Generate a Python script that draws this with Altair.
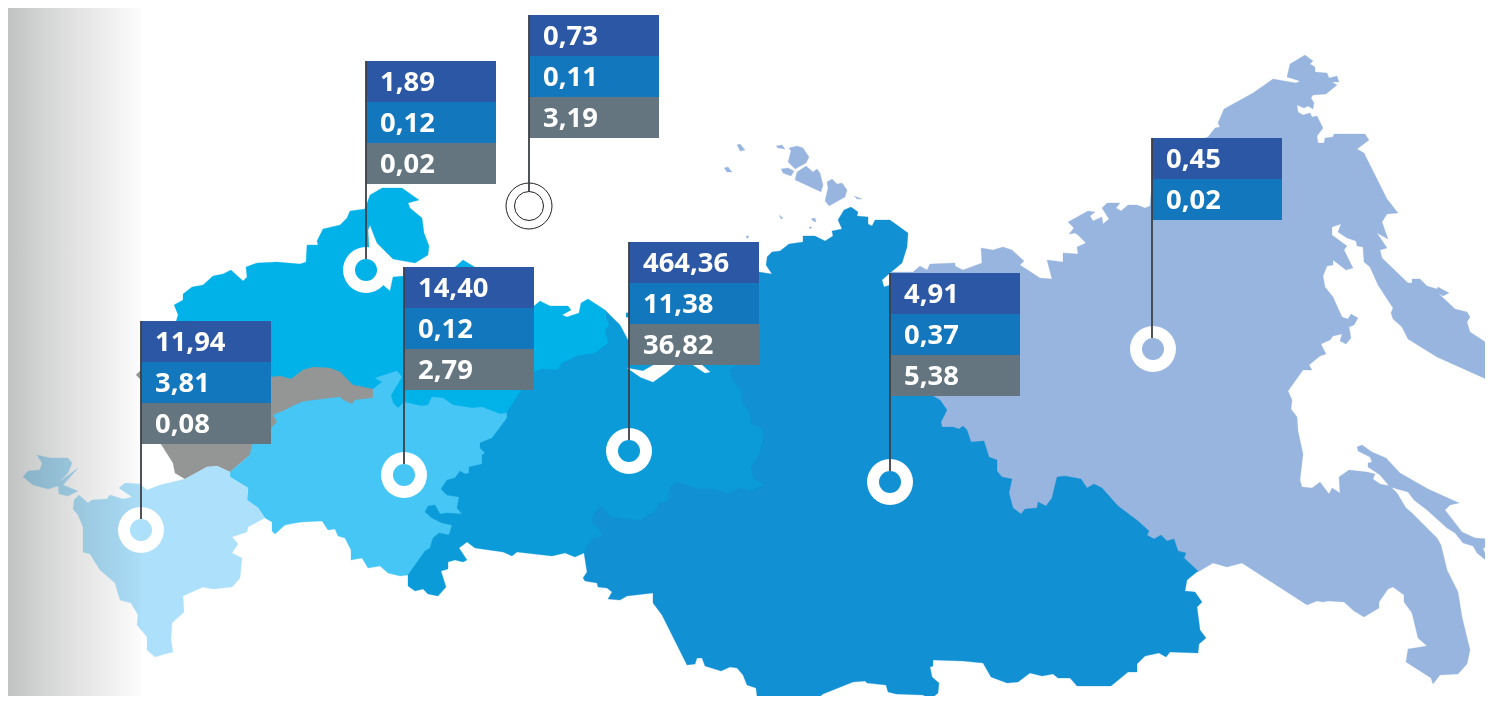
import altair as alt
import pandas as pd

# ---- map outlines (x, y in picture pixels) ----
FAR_EAST = [(891,272),(908,272),(913,272),(920,266),(927,270),(930,264),(955,263),(955,266),(963,270),(982,263),(981,248),(993,250),(1003,247),(1012,250),(1024,261),(1020,265),(1040,278),(1052,279),(1047,260),(1063,262),(1063,253),(1078,254),(1077,247),(1086,243),(1078,235),(1075,233),(1069,234),(1074,228),(1068,222),(1088,211),(1095,212),(1090,216),(1093,221),(1102,217),(1103,224),(1109,219),(1102,208),(1107,203),(1120,203),(1116,208),(1121,211),(1128,205),(1137,205),(1145,208),(1150,206),(1151,194),(1170,150),(1208,137),(1215,128),(1220,127),(1218,123),(1224,109),(1253,93),(1273,79),(1296,83),(1300,81),(1287,77),(1290,64),(1305,55),(1313,61),(1310,64),(1315,67),(1315,72),(1327,73),(1329,78),(1337,76),(1339,82),(1332,82),(1337,85),(1326,94),(1313,95),(1311,98),(1314,103),(1313,109),(1308,106),(1304,108),(1297,105),(1298,112),(1303,115),(1310,113),(1312,117),(1317,116),(1323,128),(1317,136),(1318,143),(1324,143),(1325,138),(1333,137),(1334,134),(1365,134),(1369,140),(1357,149),(1364,153),(1387,199),(1398,213),(1387,214),(1382,222),(1388,239),(1377,233),(1387,248),(1380,250),(1382,258),(1408,283),(1412,283),(1412,279),(1420,279),(1427,286),(1437,289),(1438,287),(1449,293),(1443,296),(1438,293),(1455,309),(1467,312),(1470,317),(1467,322),(1470,332),(1487,343),(1485,347),(1488,355),(1493,358),(1493,382),(1437,357),(1408,339),(1402,327),(1393,319),(1391,313),(1393,308),(1378,285),(1370,267),(1364,262),(1363,247),(1357,246),(1356,241),(1347,238),(1338,232),(1341,224),(1332,227),(1332,235),(1347,246),(1344,250),(1353,268),(1346,270),(1333,260),(1333,265),(1327,266),(1323,276),(1325,287),(1333,297),(1342,317),(1348,319),(1351,314),(1358,318),(1354,325),(1349,327),(1351,338),(1346,344),(1340,341),(1342,334),(1333,336),(1330,340),(1321,344),(1326,354),(1320,356),(1309,365),(1312,370),(1303,370),(1288,391),(1292,400),(1291,409),(1297,417),(1298,431),(1303,454),(1300,480),(1302,487),(1312,488),(1320,482),(1329,494),(1332,488),(1340,493),(1339,477),(1349,470),(1367,472),(1375,474),(1373,479),(1380,484),(1390,486),(1397,493),(1406,508),(1412,513),(1437,538),(1441,545),(1447,570),(1458,592),(1462,617),(1470,650),(1467,664),(1458,674),(1440,675),(1433,684),(1431,678),(1406,662),(1408,649),(1427,646),(1418,638),(1412,613),(1404,602),(1404,595),(1393,587),(1388,589),(1379,602),(1379,608),(1364,617),(1354,611),(1344,602),(1328,601),(1323,602),(1317,601),(1307,605),(1242,563),(1227,567),(1213,563),(1198,572),(1150,560),(1100,540),(1000,530),(940,440),(900,300)]
SAKHALIN = [(1357,447),(1362,445),(1372,452),(1386,458),(1400,473),(1428,489),(1459,503),(1450,505),(1445,510),(1462,532),(1475,538),(1490,539),(1493,543),(1492,546),(1483,548),(1488,562),(1477,553),(1473,546),(1463,543),(1455,533),(1447,528),(1427,510),(1414,500),(1408,492),(1390,487),(1380,475),(1368,467),(1368,463),(1372,462),(1370,457),(1358,451)]
ISLANDS = [
    [(788,162),(791,151),(789,148),(797,146),(803,148),(809,157),(806,163),(795,169)],
    [(795,180),(797,172),(806,166),(813,172),(817,169),(820,173),(823,185),(821,192)],
    [(781,169),(788,168),(794,171),(791,176),(783,173)],
    [(825,201),(828,188),(827,182),(832,179),(837,184),(842,183),(847,190),(845,197),(829,206)],
    [(737,145),(740,144),(745,150),(740,151)],
    [(776,146),(782,145),(785,149),(778,148)],
    [(724,168),(728,167),(732,172),(727,172)],
    [(854,196),(862,199),(857,199)],
    [(779,215),(783,218),(781,219)],
    [(811,219),(815,218),(816,222),(813,221)],
    [(809,227),(812,227),(810,229)],
    [(746,236),(749,236),(747,239)],
]
SIBERIA = [(767,257),(772,252),(780,251),(789,244),(803,242),(803,236),(815,236),(825,241),(833,236),(832,231),(842,229),(838,220),(844,210),(851,207),(858,212),(857,216),(868,217),(868,224),(872,226),(875,220),(890,220),(908,233),(907,247),(902,263),(890,273),(882,280),(884,287),(890,285),(905,320),(925,385),(933,396),(940,400),(947,410),(941,422),(942,427),(953,427),(959,429),(963,426),(967,430),(971,442),(984,441),(989,457),(997,460),(997,471),(1002,477),(1012,479),(1009,493),(1013,508),(1021,514),(1025,509),(1037,508),(1038,502),(1046,506),(1052,498),(1057,477),(1065,476),(1081,479),(1087,488),(1094,484),(1102,488),(1118,506),(1138,521),(1149,531),(1147,535),(1154,539),(1161,535),(1167,541),(1174,539),(1178,551),(1186,553),(1184,558),(1198,571),(1187,580),(1185,591),(1195,592),(1202,602),(1197,607),(1200,630),(1206,638),(1199,644),(1198,653),(1170,652),(1166,657),(1159,653),(1145,656),(1137,664),(1137,672),(1128,672),(1111,686),(1077,686),(1070,678),(1058,678),(1053,674),(1042,676),(1030,673),(1018,682),(1007,683),(991,677),(983,663),(963,661),(933,660),(933,666),(930,667),(932,677),(939,683),(938,693),(932,698),(928,698),(923,695),(896,694),(888,692),(886,685),(867,683),(865,681),(853,682),(823,694),(813,702),(802,703),(787,704),(783,704),(779,697),(772,700),(765,697),(757,696),(756,688),(747,685),(743,675),(737,668),(730,667),(721,671),(705,666),(702,658),(697,658),(695,664),(687,665),(662,615),(653,603),(653,593),(627,596),(620,600),(608,599),(612,592),(607,588),(598,587),(597,583),(585,581),(583,578),(587,572),(584,553),(590,542),(593,538),(602,537),(602,532),(597,527),(592,523),(594,513),(601,506),(610,517),(628,519),(640,521),(657,510),(658,503),(668,502),(670,487),(677,482),(697,489),(715,489),(728,494),(740,488),(750,491),(765,485),(753,478),(751,467),(760,453),(764,436),(762,428),(751,423),(750,412),(742,403),(742,392),(731,377),(730,370),(737,365),(745,320),(759,272),(772,274),(766,265)]
URAL = [(522,389),(507,412),(507,418),(492,438),(480,443),(480,448),(485,453),(482,455),(482,464),(469,467),(469,473),(465,474),(460,471),(455,478),(447,480),(441,489),(447,495),(459,497),(457,508),(462,514),(447,513),(440,514),(435,505),(428,506),(425,512),(432,518),(442,523),(452,525),(449,535),(439,533),(433,538),(430,548),(425,551),(420,558),(408,575),(408,586),(415,591),(423,589),(428,594),(438,596),(446,587),(441,571),(448,569),(448,562),(455,560),(463,562),(467,560),(459,548),(467,542),(475,548),(503,552),(512,556),(517,552),(552,556),(565,553),(575,557),(584,553),(640,560),(780,500),(760,350),(640,345),(628,340),(620,325),(605,310),(606,319),(609,325),(605,330),(608,343),(595,353),(577,356),(562,363),(557,370),(542,369),(533,372)]
URAL_TICK = [(626,313),(632,312),(632,318),(626,317)]
URAL_GAPS = [
    [(627,368),(643,371),(657,363),(675,365),(667,372),(653,382),(640,377)],
    [(693,365),(705,373),(710,372),(702,365)],
]
NORTH_WEST = [(174,305),(183,300),(183,294),(192,287),(203,285),(213,276),(223,274),(231,270),(243,281),(247,277),(246,267),(257,263),(277,262),(300,264),(306,262),(307,245),(318,245),(317,241),(323,229),(340,225),(347,218),(350,211),(365,209),(370,195),(382,188),(402,188),(419,200),(408,203),(410,208),(422,218),(424,233),(429,246),(428,255),(415,263),(393,259),(377,243),(373,233),(370,225),(368,230),(369,247),(366,270),(383,285),(390,291),(393,277),(404,276),(455,267),(463,260),(473,266),(534,306),(540,301),(550,306),(568,306),(571,310),(562,315),(567,317),(579,313),(581,303),(588,299),(605,310),(606,319),(612,330),(612,345),(600,360),(522,430),(400,430),(300,410),(200,385),(176,360),(176,322),(178,315)]
VOLGA = [(273,415),(283,411),(295,405),(302,402),(307,401),(340,397),(343,400),(352,404),(355,400),(373,398),(373,389),(382,382),(375,378),(397,371),(402,377),(391,395),(393,403),(398,408),(404,402),(422,406),(428,405),(432,397),(443,398),(453,405),(472,408),(482,407),(500,414),(507,413),(507,418),(490,470),(450,540),(408,575),(400,576),(388,573),(380,566),(368,568),(362,558),(351,560),(351,550),(345,538),(338,536),(335,529),(328,530),(322,521),(302,522),(295,523),(285,525),(275,534),(272,531),(272,522),(265,518),(258,508),(247,500),(248,488),(230,477),(230,472),(250,455),(252,445),(271,430),(272,427),(277,422)]
GREY_AREA = [(136,375),(140,371),(271,377),(280,376),(291,379),(303,370),(313,367),(330,368),(340,372),(353,385),(373,389),(373,400),(290,420),(250,455),(230,472),(217,466),(207,467),(185,479),(175,473),(173,463),(161,444),(150,420),(141,380)]
SOUTH = [(74,500),(79,495),(88,503),(92,500),(107,499),(110,495),(123,499),(132,497),(119,488),(125,483),(140,484),(147,490),(160,485),(185,479),(207,467),(217,466),(230,472),(230,477),(248,488),(247,500),(258,508),(265,518),(248,527),(247,532),(232,537),(238,544),(232,553),(242,558),(240,578),(232,587),(213,589),(203,587),(183,596),(184,612),(172,623),(171,640),(173,652),(165,654),(155,657),(147,650),(147,637),(137,625),(138,615),(131,603),(120,600),(115,583),(100,570),(90,554),(83,552),(83,527),(78,515),(73,509)]
CRIMEA = [(23,477),(28,471),(40,470),(42,463),(37,455),(50,458),(68,458),(72,463),(68,473),(59,482),(78,468),(63,485),(78,491),(68,496),(59,494),(58,486),(48,489),(33,485)]

# ---- flags ----
FLAG_X = [141, 366, 404, 529, 629, 890, 1152]
FLAG_Y = [321, 61, 267, 15, 242, 273, 138]
FLAG_VALUES = [
    ["11,94", "3,81", "0,08"],
    ["1,89", "0,12", "0,02"],
    ["14,40", "0,12", "2,79"],
    ["0,73", "0,11", "3,19"],
    ["464,36", "11,38", "36,82"],
    ["4,91", "0,37", "5,38"],
    ["0,45", "0,02"],
]
RING_X = [141, 366, 404, 529, 629, 890, 1153]
RING_Y = [530, 270, 475, 206, 451, 482, 349]
INNER_COLOURS = ["#ade0fa", "#00b2e8", "#45c6f5", "#ffffff", "#0a9bd8", "#1190d3", "#97b5de"]
ROW_COLOURS = ["#2b57a5", "#1277bd", "#64757f"]
FLAG_W = 130
ROW_H = 41

X = alt.Scale(domain=[8, 1485], range=[0, 1477])
Y = alt.Scale(domain=[8, 696], range=[0, 688])
xq = lambda f="x": alt.X(f"{f}:Q", scale=X, axis=None)
yq = lambda f="y": alt.Y(f"{f}:Q", scale=Y, axis=None)


def shapes(polys, colour):
    rows = [
        {"x": x, "y": y, "part": p, "i": i}
        for p, poly in enumerate(polys)
        for i, (x, y) in enumerate(poly)
    ]
    return alt.Chart(pd.DataFrame(rows)).mark_line(
        fill=colour, stroke=colour, strokeWidth=0.3, interpolate="linear", clip=True
    ).encode(x=xq(), y=yq(), detail="part:N", order="i:Q")


layers = [
    shapes([FAR_EAST, SAKHALIN] + ISLANDS, "#97b5de"),
    shapes([NORTH_WEST], "#00b2e8"),
    shapes([GREY_AREA], "#949695"),
    shapes([VOLGA], "#45c6f5"),
    shapes([SOUTH, CRIMEA], "#ade0fa"),
    shapes([URAL, URAL_TICK], "#0a9bd8"),
    shapes(URAL_GAPS, "#ffffff"),
    shapes([SIBERIA], "#1190d3"),
]

# side shading
shade = alt.Chart(pd.DataFrame({"x": [8], "x2": [141], "y": [8], "y2": [696]})).mark_rect(
    blend="multiply",
    color=alt.LinearGradient(
        gradient="linear", x1=0, x2=1, y1=0, y2=0,
        stops=[
            alt.GradientStop(offset=0, color="#c1c3c3"),
            alt.GradientStop(offset=0.25, color="#d2d3d3"),
            alt.GradientStop(offset=0.5, color="#e2e2e2"),
            alt.GradientStop(offset=0.8, color="#f1f1f1"),
            alt.GradientStop(offset=1, color="#fcfcfc"),
        ],
    ),
).encode(x=xq(), x2="x2:Q", y=yq(), y2="y2:Q")
layers.append(shade)

# rings
rings = pd.DataFrame({"x": RING_X, "y": RING_Y, "c": INNER_COLOURS})
solid = rings[rings.c != "#ffffff"]
hollow = rings[rings.c == "#ffffff"]
layers.append(alt.Chart(solid).mark_circle(size=2116, opacity=1, color="#ffffff").encode(x=xq(), y=yq()))
layers.append(
    alt.Chart(solid).mark_circle(size=484, opacity=1).encode(
        x=xq(), y=yq(), color=alt.Color("c:N", scale=None, legend=None)
    )
)
for area in (2116, 841):
    layers.append(
        alt.Chart(hollow).mark_point(size=area, shape="circle", filled=False, stroke="#231f20", strokeWidth=1, opacity=1).encode(x=xq(), y=yq())
    )

# flags
rows = []
for fx, fy, vals in zip(FLAG_X, FLAG_Y, FLAG_VALUES):
    for r, v in enumerate(vals):
        rows.append({
            "x": fx, "x2": fx + FLAG_W, "y": fy + r * ROW_H, "y2": fy + (r + 1) * ROW_H,
            "c": ROW_COLOURS[r], "t": v, "tx": fx + 14, "ty": fy + r * ROW_H + 29.6,
        })
fl = pd.DataFrame(rows)
layers.append(
    alt.Chart(fl).mark_rect().encode(
        x=xq(), x2="x2:Q", y=yq(), y2="y2:Q", color=alt.Color("c:N", scale=None, legend=None)
    )
)

# poles
poles = pd.DataFrame({
    "x": FLAG_X, "y": FLAG_Y,
    "y2": [ry - (14.5 if c == "#ffffff" else 11) for ry, c in zip(RING_Y, INNER_COLOURS)],
})
layers.append(
    alt.Chart(poles).mark_rule(color="#3b4045", strokeWidth=1.8).encode(x=xq(), y=yq(), y2="y2:Q")
)

layers.append(
    alt.Chart(fl).mark_text(
        align="left", baseline="alphabetic", font="Open Sans", fontSize=27.4, fontWeight=700, color="#ffffff"
    ).encode(x=xq("tx"), y=yq("ty"), text="t:N")
)

chart = (
    alt.layer(*layers)
    .properties(width=1477, height=688, padding=0, autosize=alt.AutoSizeParams(type="none"))
    .configure_view(stroke=None)
)

chart.save("out.html", embed_options={"renderer": "svg", "actions": False})
